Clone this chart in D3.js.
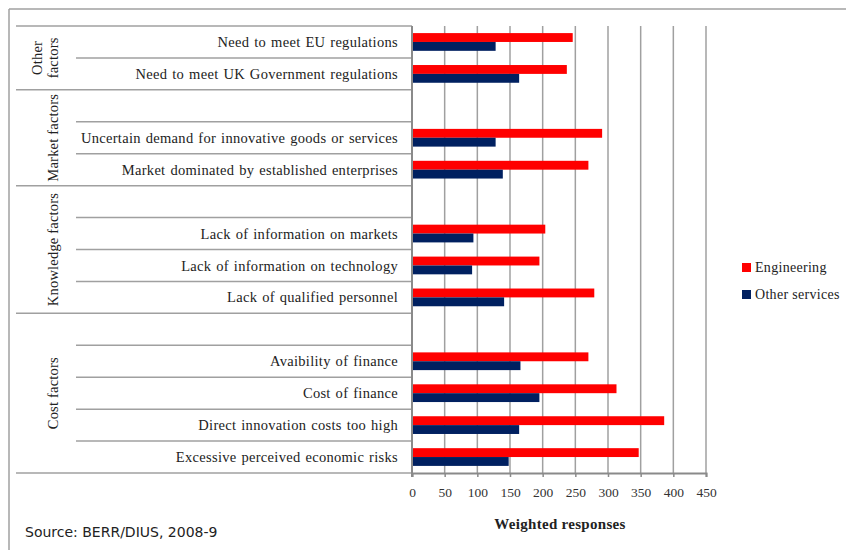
<!DOCTYPE html>
<html>
<head>
<meta charset="utf-8">
<script src="https://cdn.jsdelivr.net/npm/d3@7"></script>
<style>
  html, body { margin: 0; padding: 0; background: #fff; }
  svg { display: block; }
  .serif { font-family: "Liberation Serif", "DejaVu Serif", serif; }
  .sans { font-family: "DejaVu Sans", sans-serif; }
</style>
</head>
<body>
<svg id="chart" width="846" height="550"></svg>
<script>
// Barriers to innovation, weighted responses by sector (blank rows separate groups)
const categories = [
  "Need to meet EU regulations",
  "Need to meet UK Government regulations",
  "",
  "Uncertain demand for innovative goods or services",
  "Market dominated by established enterprises",
  "",
  "Lack of information on markets",
  "Lack of information on technology",
  "Lack of qualified personnel",
  "",
  "Avaibility of finance",
  "Cost of finance",
  "Direct innovation costs too high",
  "Excessive perceived  economic risks"
];
const engineering   = [246, 237, null, 291, 270, null, 204, 195, 279, null, 270, 313, 386, 347];
const otherServices = [128, 164, null, 128, 139, null,  94,  92, 141, null, 166, 195, 164, 148];

const groupNames = [["Other", "factors"], ["Market factors"], ["Knowledge factors"], ["Cost factors"]];
const groupSizes = [2, 3, 4, 5];

const seriesNames = ["Engineering", "Other services"];
const seriesColors = ["#ff0000", "#002060"];
const xTicks = [0, 50, 100, 150, 200, 250, 300, 350, 400, 450];

const svg = d3.select("#chart");
const lineColor = "#a0a0a0";

const x = d3.scaleLinear().domain([0, 450]).range([412, 706]);
const y = d3.scaleBand().domain(d3.range(categories.length)).range([26, 473]).padding(0);
const sub = d3.scaleBand().domain([0, 1]).range([0, y.bandwidth()]).paddingInner(0).paddingOuter(0.8);

// outer frame (top and left edges)
svg.append("line").attr("x1", 9).attr("x2", 846).attr("y1", 9).attr("y2", 9)
  .attr("stroke", lineColor).attr("stroke-width", 1.5);
svg.append("line").attr("x1", 9).attr("x2", 9).attr("y1", 9).attr("y2", 550)
  .attr("stroke", lineColor).attr("stroke-width", 1.5);

// vertical gridlines
svg.append("g").selectAll("line").data(xTicks.slice(1)).join("line")
  .attr("x1", d => x(d)).attr("x2", d => x(d))
  .attr("y1", y.range()[0]).attr("y2", y.range()[1])
  .attr("stroke", lineColor).attr("stroke-width", 1.5);

// row separators in the label area; group separators extend further left
const groupStarts = [0];
groupSizes.forEach((s, i) => groupStarts.push(groupStarts[i] + s));
const boundaries = d3.range(categories.length + 1);
const yEdge = i => i < categories.length ? y(i) : y.range()[1];
svg.append("g").selectAll("line").data(boundaries).join("line")
  .attr("x1", d => groupStarts.includes(d) ? 16 : 76)
  .attr("x2", x(0))
  .attr("y1", yEdge).attr("y2", yEdge)
  .attr("stroke", lineColor).attr("stroke-width", 1.5);

// bars
const bars = svg.append("g");
[engineering, otherServices].forEach((vals, si) => {
  bars.append("g").selectAll("rect")
    .data(vals.map((v, i) => ({ v, i })).filter(d => d.v != null))
    .join("rect")
    .attr("x", x(0))
    .attr("y", d => y(d.i) + sub(si))
    .attr("width", d => x(d.v) - x(0))
    .attr("height", sub.bandwidth())
    .attr("fill", seriesColors[si]);
});

// category axis line
svg.append("line").attr("x1", x(0)).attr("x2", x(0))
  .attr("y1", y.range()[0]).attr("y2", y.range()[1] + 4)
  .attr("stroke", "#8a8a8a").attr("stroke-width", 2);

// value axis
const xAxis = svg.append("g").attr("transform", `translate(0,${y.range()[1]})`)
  .call(d3.axisBottom(x).tickValues(xTicks).tickSize(4).tickPadding(10));
xAxis.attr("font-family", null).attr("font-size", null);
xAxis.select(".domain").attr("stroke", "#8a8a8a").attr("stroke-width", 2);
xAxis.selectAll(".tick line").attr("stroke", "#8a8a8a").attr("stroke-width", 1.5);
xAxis.selectAll("text").attr("class", "serif").style("font-size", "13.5px").attr("fill", "#333");

// category labels
svg.append("g").selectAll("text").data(categories).join("text")
  .attr("class", "serif")
  .attr("x", 398)
  .attr("y", (d, i) => y(i) + y.bandwidth() / 2)
  .attr("dy", "0.35em")
  .attr("text-anchor", "end")
  .style("font-size", "14.5px").style("letter-spacing", "0.3px").style("word-spacing", "1px")
  .attr("fill", "#222")
  .text(d => d);

// group labels, rotated
groupNames.forEach((lines, gi) => {
  const cy = (yEdge(groupStarts[gi]) + yEdge(groupStarts[gi + 1])) / 2;
  lines.forEach((t, li) => {
    const bx = lines.length === 1 ? 58 : 42 + li * 16;
    svg.append("text")
      .attr("class", "serif")
      .attr("transform", `translate(${bx},${cy}) rotate(-90)`)
      .attr("text-anchor", "middle")
      .style("font-size", "14.5px").style("letter-spacing", "0.2px")
      .attr("fill", "#222")
      .text(t);
  });
});

// axis title
svg.append("text").attr("class", "serif").attr("x", 560).attr("y", 529)
  .attr("text-anchor", "middle")
  .style("font-size", "15px").style("letter-spacing", "0.3px")
  .attr("font-weight", "bold").attr("fill", "#222")
  .text("Weighted responses");

// legend
const legend = svg.append("g");
seriesNames.forEach((name, i) => {
  const ly = 263 + i * 27;
  legend.append("rect").attr("x", 742).attr("y", ly).attr("width", 9).attr("height", 9)
    .attr("fill", seriesColors[i]);
  legend.append("text").attr("class", "serif").attr("x", 755).attr("y", ly + 9)
    .style("font-size", "14px").style("letter-spacing", "0.3px")
    .attr("fill", "#222")
    .text(name);
});

// source note
svg.append("text").attr("class", "sans").attr("x", 25).attr("y", 537)
  .style("font-size", "14px").attr("fill", "#222")
  .text("Source: BERR/DIUS, 2008-9");
</script>
</body>
</html>
